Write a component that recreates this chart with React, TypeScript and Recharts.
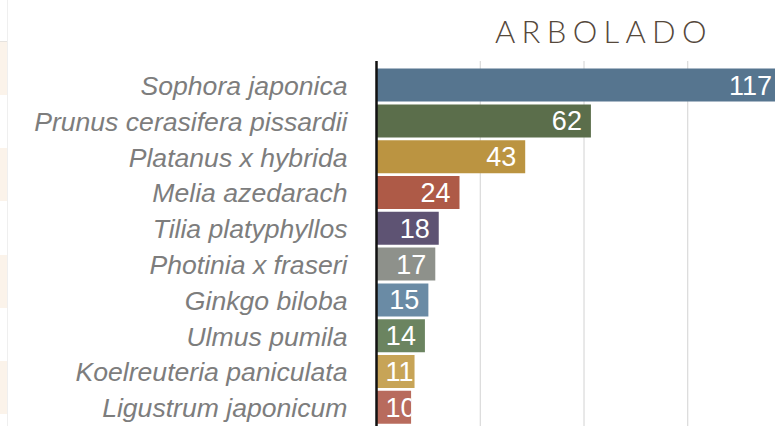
import React from "react";
import { BarChart, Bar, XAxis, YAxis, CartesianGrid, Cell, LabelList } from "recharts";

const SPECIES = [
  "Sophora japonica",
  "Prunus cerasifera pissardii",
  "Platanus x hybrida",
  "Melia azedarach",
  "Tilia platyphyllos",
  "Photinia x fraseri",
  "Ginkgo biloba",
  "Ulmus pumila",
  "Koelreuteria paniculata",
  "Ligustrum japonicum",
];

const COUNTS = [117, 62, 43, 24, 18, 17, 15, 14, 11, 10];

const BAR_COLORS = [
  "#56758f",
  "#5b6e4b",
  "#bb9441",
  "#ae5a47",
  "#5e5373",
  "#8e918b",
  "#6a8ba5",
  "#6b8460",
  "#c7a457",
  "#b86b5d",
];

const X_TICKS = [0, 30, 60, 90, 120];

const data = SPECIES.map((name, i) => ({ name, count: COUNTS[i] }));

const FONT = "'Liberation Sans', Arial, Helvetica, sans-serif";

function SpeciesTick(props: any) {
  const { x, y, payload } = props;
  return (
    <text
      x={x}
      y={y}
      dy="0.355em"
      textAnchor="end"
      fill="#7d7d7d"
      fontSize={26.6}
      fontStyle="italic"
      fontFamily={FONT}
    >
      {payload.value}
    </text>
  );
}

// white count inside the bar end; short bars start it at the left and clip it
function ValueLabel(props: any) {
  const { x, y, width, height, value, index } = props;
  const fontSize = 27;
  const textW = String(value).length * fontSize * 0.556;
  const pad = 9;
  const fits = width - pad - textW >= pad;
  const id = `lbl-clip-${index}`;
  return (
    <g>
      <defs>
        <clipPath id={id}>
          <rect x={x} y={y} width={width} height={height} />
        </clipPath>
      </defs>
      <text
        x={fits ? x + width - pad : x + pad}
        y={y + height / 2}
        dy="0.355em"
        textAnchor={fits ? "end" : "start"}
        fill="#ffffff"
        fontSize={fontSize}
        fontFamily={FONT}
        clipPath={`url(#${id})`}
      >
        {value}
      </text>
    </g>
  );
}

function SideStripes() {
  const rows = [0, 1, 2, 3];
  return (
    <>
      <div
        style={{ position: "absolute", left: 0, top: 41, width: 8, height: 1, background: "#e6e3df" }}
      />
      {rows.map((r) => (
        <div
          key={r}
          style={{
            position: "absolute",
            left: 0,
            top: 42 + r * 106.3,
            width: 7,
            height: 53,
            background: "#fbf3ea",
          }}
        />
      ))}
      <div
        style={{ position: "absolute", left: 7, top: 0, width: 1, height: 426, background: "#efefef" }}
      />
    </>
  );
}

export default function App() {
  return (
    <div
      style={{
        position: "absolute",
        left: 0,
        top: 0,
        width: 775,
        height: 426,
        overflow: "hidden",
        background: "#ffffff",
      }}
    >
      <SideStripes />
      <svg style={{ position: "absolute", left: 0, top: 0 }} width={775} height={60}>
        <text
          x={495}
          y={43}
          fill="#55483b"
          fontSize={31}
          fontWeight={300}
          letterSpacing={6.3}
          fontFamily="Lato, 'Open Sans', sans-serif"
        >
          ARBOLADO
        </text>
      </svg>
      <div style={{ position: "absolute", left: 0, top: 0 }}>
        <BarChart
          width={800}
          height={446}
          data={data}
          layout="vertical"
          margin={{ top: 61, right: 8.5, left: 0, bottom: 0 }}
        >
          <CartesianGrid horizontal={false} stroke="#d2d2d2" strokeWidth={1} />
          <XAxis
            type="number"
            domain={[0, 120]}
            ticks={X_TICKS}
            height={0}
            axisLine={false}
            tickLine={false}
            tick={{ fill: "none", fontSize: 1 }}
          />
          <YAxis
            type="category"
            dataKey="name"
            width={376.5}
            padding={{ top: 6.6, bottom: 20.4 }}
            axisLine={{ stroke: "#111111", strokeWidth: 2.5 }}
            tickLine={false}
            tickSize={27}
            tick={<SpeciesTick />}
            interval={0}
          />
          <Bar dataKey="count" barSize={33} isAnimationActive={false}>
            {data.map((_, i) => (
              <Cell key={i} fill={BAR_COLORS[i]} />
            ))}
            <LabelList dataKey="count" content={<ValueLabel />} />
          </Bar>
        </BarChart>
      </div>
    </div>
  );
}
